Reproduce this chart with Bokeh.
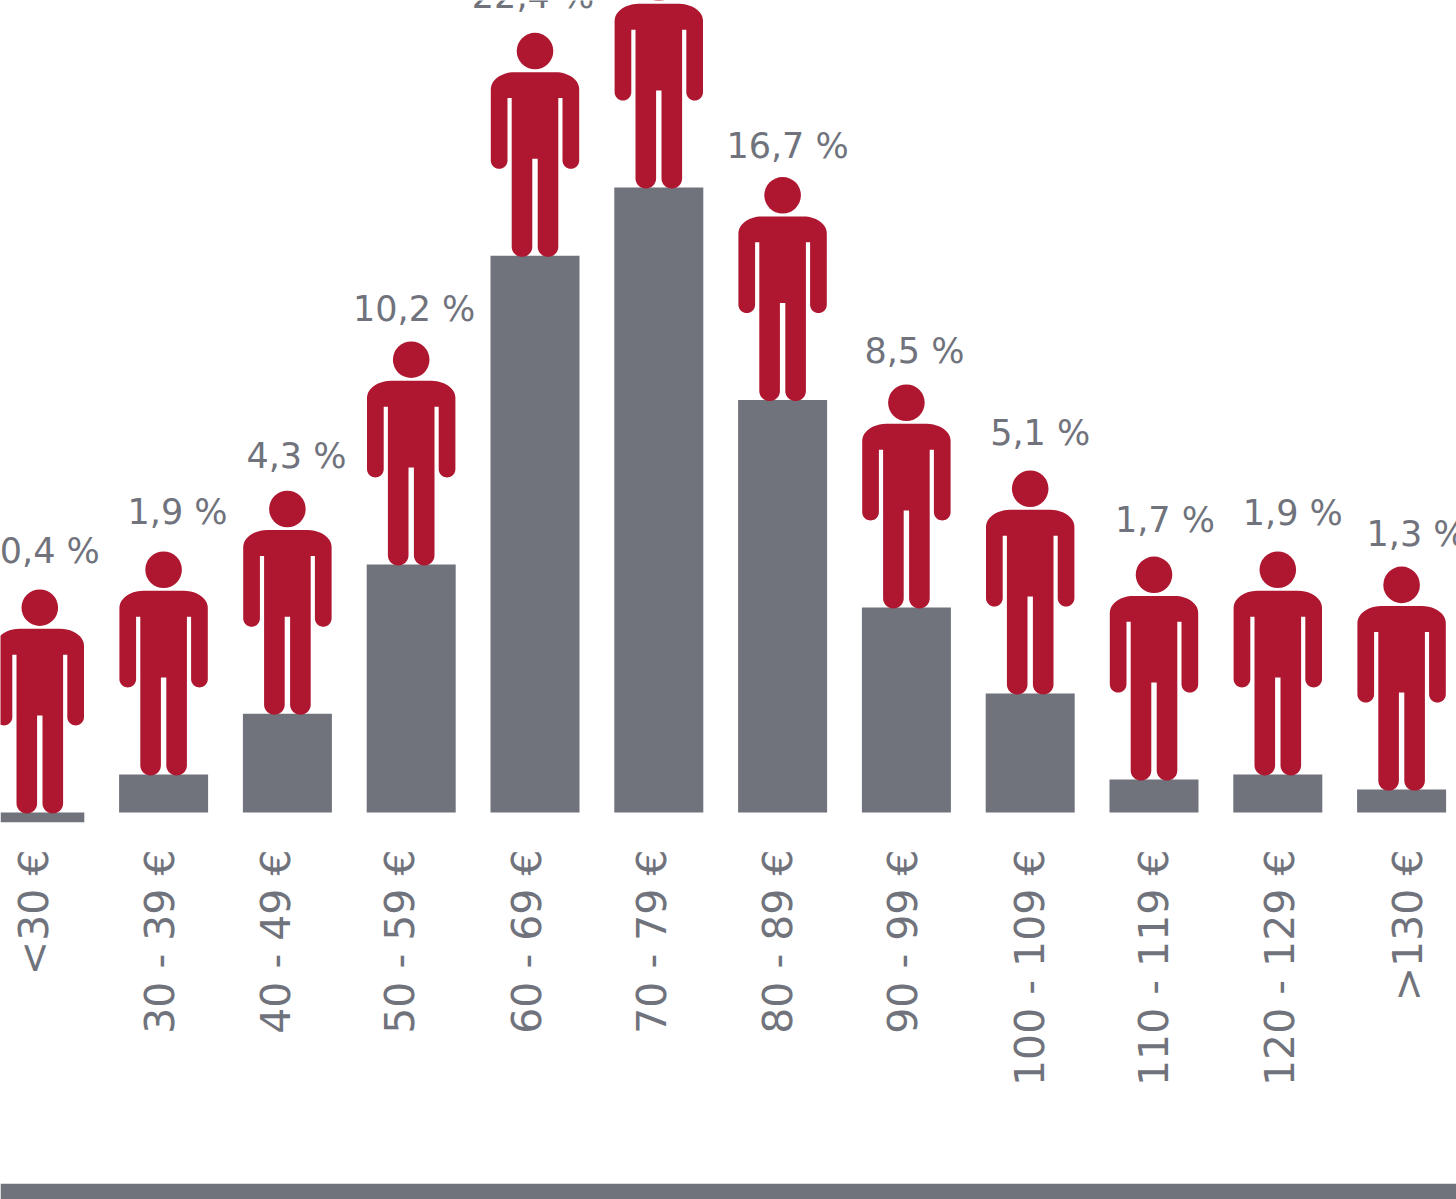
import math
import numpy as np
from bokeh.embed import file_html
from bokeh.resources import INLINE
from bokeh.plotting import figure
from bokeh.layouts import column
from bokeh.models import Range1d, FixedTicker, ColumnDataSource, LinearAxis
from bokeh.core.properties import value

categories = ["<30 €", "30 - 39 €", "40 - 49 €", "50 - 59 €", "60 - 69 €", "70 - 79 €",
              "80 - 89 €", "90 - 99 €", "100 - 109 €", "110 - 119 €", "120 - 129 €", ">130 €"]
shares = [0.4, 1.9, 4.3, 10.2, 22.4, 25.1, 16.7, 8.5, 5.1, 1.7, 1.9, 1.3]
share_labels = ["0,4 %", "1,9 %", "4,3 %", "10,2 %", "22,4 %", "", "16,7 %", "8,5 %",
                "5,1 %", "1,7 %", "1,9 %", "1,3 %"]
bar_bottoms = [0.0] + [0.4] * 11

# label placement, px relative to each bar's top centre
label_dx = [10, 14, 9, 3, -2, 0, 5, 8, 10, 11, 15, 15]
label_dy = [261, 262, 258, 255, 260, 260, 254, 256, 260, 259, 261, 256]
# the rotated tick labels are not evenly spaced: their px centres across the page
tick_px = [33, 159, 275, 399, 526, 651, 777, 902, 1029, 1153, 1279, 1407]

GREY = "#70737c"
RED = "#ae172f"
PX_PER_UNIT = 25.3       # vertical px per percent
STEP = 123.8             # horizontal px per category
X0 = 39.3
FRAME_W, FRAME_H, BASE, BAND = 1456, 1183, 822, 16

p = figure(width=FRAME_W, height=FRAME_H, output_backend="svg", toolbar_location=None,
           x_range=Range1d(-X0 / STEP, (FRAME_W - X0) / STEP),
           y_range=Range1d(0, BASE / PX_PER_UNIT),
           x_axis_location=None, y_axis_location=None,
           min_border=0, min_border_bottom=FRAME_H - BASE,
           outline_line_color=None)
p.extra_x_ranges["labels"] = Range1d(0, FRAME_W)
p.grid.visible = False
p.background_fill_color = "white"

xs = list(range(len(categories)))
p.vbar(x=xs, top=shares, bottom=bar_bottoms, width=89 / STEP, fill_color=GREY, line_color=None)


def rounded(points):
    """Outline from (dx, dy, radius along incoming edge, radius along outgoing edge), in px."""
    out = []
    n = len(points)
    for i, (x, y, ra, rb) in enumerate(points):
        if ra == 0:
            out.append((x, y))
            continue
        px, py = points[i - 1][:2]
        qx, qy = points[(i + 1) % n][:2]
        a = np.array([px - x, py - y], float); a /= np.hypot(*a)
        b = np.array([qx - x, qy - y], float); b /= np.hypot(*b)
        c = np.array([x, y], float)
        centre = c + a * ra + b * rb
        for t in np.linspace(0, 1, 12):
            th = (1 - t) * math.pi / 2
            out.append(tuple(centre - a * ra * math.cos(th) - b * rb * math.sin(th)))
    return np.array(out)


arm = 8.3
leg = 10
person = rounded([
    (-44.2, 183.6, 17, 24), (44.2, 183.6, 24, 17), (44.2, 87, arm, arm), (27.5, 87, arm, arm),
    (27.5, 157.7, 0, 0), (23.3, 157.7, 0, 0), (23.3, -1, leg, leg), (2.7, -1, leg, leg),
    (2.7, 97, 0, 0), (-2.7, 97, 0, 0), (-2.7, -1, leg, leg), (-23.3, -1, leg, leg),
    (-23.3, 157.7, 0, 0), (-27.5, 157.7, 0, 0), (-27.5, 87, arm, arm), (-44.2, 87, arm, arm),
])
p.patches(xs=[(i + person[:, 0] / STEP).tolist() for i in xs],
          ys=[(v + person[:, 1] / PX_PER_UNIT).tolist() for v in shares],
          fill_color=RED, line_color=None)
p.scatter(x=xs, y=[v + 204.7 / PX_PER_UNIT for v in shares], size=36.6, marker="circle",
          fill_color=RED, line_color=None)

src = ColumnDataSource(dict(x=xs, y=shares, t=share_labels, dx=label_dx,
                            dy=[-d for d in label_dy]))
p.text(x="x", y="y", text="t", x_offset="dx", y_offset="dy", source=src,
       text_font=value("DejaVu Sans"), text_font_size="35px", text_color=GREY,
       text_align="center", text_baseline="alphabetic")

ax = LinearAxis(x_range_name="labels")
ax.ticker = FixedTicker(ticks=tick_px)
ax.major_label_overrides = {t: c for t, c in zip(tick_px, categories)}
ax.major_label_orientation = math.pi / 2
ax.major_label_text_font = "DejaVu Sans"
ax.major_label_text_font_size = "41px"
ax.major_label_text_color = GREY
ax.major_label_standoff = 21
ax.axis_line_color = None
ax.major_tick_line_color = None
ax.minor_tick_line_color = None
p.add_layout(ax, "below")

band = figure(width=FRAME_W, height=BAND, output_backend="svg", toolbar_location=None,
              x_range=Range1d(0, 1), y_range=Range1d(0, 1), x_axis_location=None,
              y_axis_location=None, min_border=0, outline_line_color=None)
band.grid.visible = False
band.quad(left=[0], right=[1], bottom=[0], top=[1], fill_color=GREY, line_color=None)

open("out.html", "w").write(file_html(column(p, band, spacing=0), INLINE))
